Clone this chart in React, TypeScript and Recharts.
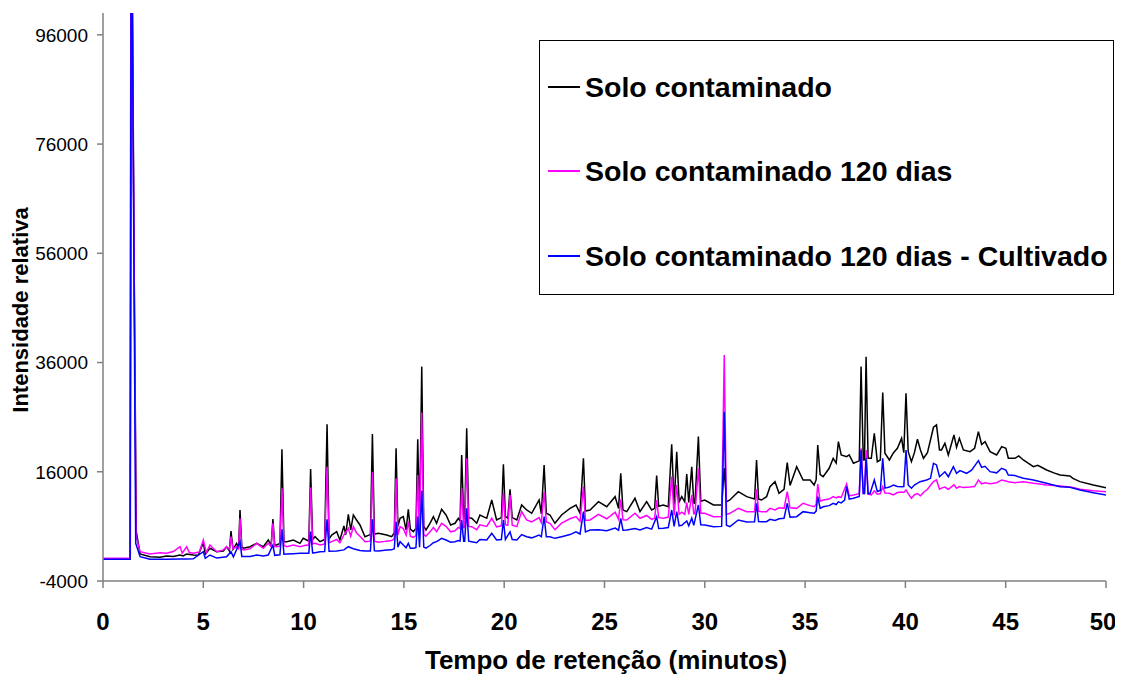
import { Line, LineChart, XAxis, YAxis } from "recharts";

const xTicks = [0, 5, 10, 15, 20, 25, 30, 35, 40, 45, 50];
const yTicks = [-4000, 16000, 36000, 56000, 76000, 96000];

// [tempo (min), intensidade]
const soloContaminado: [number, number][] = [
  [0, 0], [1.36, 0], [1.42, 130000], [1.56, 50000], [1.66, 5000], [1.85, 945],
  [2.34, 450], [2.84, 340], [3.17, 580], [3.5, 500], [3.84, 760], [4.0, 600],
  [4.17, 950], [4.5, 760], [4.75, 700], [5.0, 3010], [5.1, 900], [5.33, 2000],
  [5.67, 1370], [6.0, 1500], [6.16, 2280], [6.3, 1500], [6.38, 5160], [6.48, 1800],
  [6.66, 2900], [6.76, 2000], [6.83, 9000], [6.92, 2200], [7.0, 2000], [7.33, 2280],
  [7.66, 2900], [7.99, 2280], [8.24, 3510], [8.38, 2500], [8.47, 7350], [8.56, 2600],
  [8.66, 2590], [8.82, 2900], [8.92, 20100], [9.02, 3200], [9.16, 3200], [9.49, 3510],
  [9.82, 2900], [9.98, 3820], [10.15, 3510], [10.26, 3300], [10.35, 16500], [10.45, 3600],
  [10.57, 4110], [10.82, 3200], [11.05, 3600], [11.17, 24700], [11.27, 3700], [11.4, 4420],
  [11.65, 5030], [11.81, 3510], [12.01, 6070], [12.1, 4500], [12.23, 8220], [12.35, 5340],
  [12.48, 8090], [12.64, 7170], [12.81, 6260], [13.06, 4110], [13.33, 4500], [13.43, 22900],
  [13.53, 4600], [13.73, 4720], [14.14, 4420], [14.39, 4110], [14.52, 4800], [14.61, 20300],
  [14.7, 6000], [14.81, 7480], [14.97, 7780], [15.11, 5340], [15.22, 9130], [15.32, 5500],
  [15.47, 5030], [15.6, 5600], [15.69, 21950], [15.78, 6000], [15.89, 35250], [15.99, 6000],
  [16.1, 5340], [16.3, 6570], [16.47, 7780], [16.63, 6570], [16.88, 9130], [17.1, 8090],
  [17.33, 6260], [17.55, 6570], [17.71, 7480], [17.8, 7000], [17.88, 19080], [17.98, 7500],
  [18.03, 7400], [18.13, 23970], [18.23, 7600], [18.38, 7480], [18.63, 6570], [18.79, 8090],
  [19.13, 7480], [19.38, 10830], [19.62, 7170], [19.86, 7600], [19.96, 17370], [20.06, 7800],
  [20.18, 7500], [20.29, 12800], [20.4, 7600], [20.63, 7170], [20.87, 9920], [21.12, 9000],
  [21.37, 8400], [21.74, 10830], [21.85, 8300], [21.99, 17250], [22.1, 8400], [22.28, 8090],
  [22.53, 6570], [22.86, 8090], [23.28, 9300], [23.58, 9920], [23.78, 8400], [23.95, 18470],
  [24.05, 8800], [24.28, 9000], [24.7, 10520], [25.11, 9600], [25.53, 11440], [25.7, 9300],
  [25.81, 15720], [25.92, 9000], [26.11, 8700], [26.52, 11140], [26.77, 8700], [27.1, 10520],
  [27.35, 9000], [27.5, 9300], [27.6, 15290], [27.7, 9700], [27.93, 9920], [28.18, 9600],
  [28.35, 21040], [28.47, 10000], [28.6, 19680], [28.72, 10500], [28.85, 11440], [29.0, 10500],
  [29.1, 15600], [29.2, 10400], [29.35, 16930], [29.45, 10300], [29.51, 10230], [29.68, 22430],
  [29.8, 10600], [30.0, 10830], [30.43, 9920], [30.84, 9920], [30.97, 16640], [31.08, 10500],
  [31.25, 10830], [31.67, 12350], [32.09, 11440], [32.48, 11000], [32.58, 18160], [32.68, 11000],
  [32.83, 10830], [33.08, 11440], [33.25, 13270], [33.5, 14190], [33.7, 12070], [33.95, 12800],
  [34.11, 17660], [34.25, 13500], [34.58, 16930], [34.9, 14500], [35.25, 14500], [35.45, 13580],
  [35.55, 14500], [35.63, 20910], [35.75, 15500], [35.9, 15100], [36.2, 16640], [36.4, 18470],
  [36.55, 17600], [36.66, 21510], [36.8, 19080], [37.07, 18770], [37.2, 19080], [37.41, 17550],
  [37.7, 18000], [37.79, 35250], [37.9, 18160], [37.96, 18200], [38.04, 37080], [38.14, 18470],
  [38.3, 18470], [38.45, 23050], [38.6, 17850], [38.75, 18160], [38.87, 30490], [38.98, 19390],
  [39.2, 18160], [39.4, 19450], [39.6, 20300], [39.81, 22120], [39.92, 19500], [40.03, 30380],
  [40.14, 19680], [40.3, 17850], [40.45, 19500], [40.6, 21950], [40.75, 20000], [40.9, 18470],
  [41.1, 19500], [41.4, 24150], [41.55, 24570], [41.7, 20000], [41.8, 20000], [41.97, 21220],
  [42.14, 19080], [42.42, 22740], [42.55, 20500], [42.69, 22130], [42.89, 20000], [43.22, 19680],
  [43.45, 20300], [43.64, 23340], [43.8, 21000], [43.97, 21510], [44.22, 19680], [44.55, 19080],
  [44.8, 20600], [45.01, 20300], [45.13, 18470], [45.46, 18470], [45.65, 18900], [45.88, 18160],
  [46.38, 16930], [46.6, 17200], [47.04, 16330], [47.4, 15800], [47.71, 15410], [48.2, 15230],
  [48.35, 14800], [48.7, 14190], [49.37, 13580], [50, 13090],
];

const solo120Dias: [number, number][] = [
  [0, 150], [1.34, 150], [1.4, 130000], [1.56, 50000], [1.65, 4110], [1.85, 1370],
  [2.34, 950], [2.84, 1180], [3.17, 1070], [3.5, 1400], [3.84, 2280], [3.95, 1100],
  [4.17, 2280], [4.3, 1200], [4.5, 1070], [4.8, 1300], [5.0, 3510], [5.15, 1200],
  [5.33, 2590], [5.67, 1370], [6.0, 1700], [6.16, 2280], [6.3, 1800], [6.38, 4110],
  [6.48, 1900], [6.66, 2280], [6.76, 1900], [6.83, 7480], [6.92, 1800], [7.0, 1680],
  [7.33, 1900], [7.66, 2900], [7.99, 2000], [8.24, 2900], [8.38, 2300], [8.47, 6570],
  [8.56, 2300], [8.66, 2280], [8.82, 2400], [8.92, 13000], [9.02, 2500], [9.16, 2280],
  [9.49, 2590], [9.82, 2280], [10.15, 2590], [10.26, 2500], [10.35, 13160], [10.45, 2800],
  [10.57, 2900], [10.82, 2590], [11.05, 2800], [11.17, 16900], [11.27, 3000], [11.4, 3200],
  [11.65, 3600], [11.81, 3000], [12.01, 4420], [12.23, 5650], [12.35, 4200], [12.48, 5950],
  [12.64, 4800], [12.81, 4200], [13.06, 3200], [13.33, 3300], [13.43, 16000], [13.53, 3300],
  [13.73, 3100], [14.14, 3300], [14.39, 3400], [14.52, 3700], [14.61, 14800], [14.7, 4400],
  [14.81, 5950], [14.97, 5600], [15.11, 4400], [15.22, 6860], [15.32, 4200], [15.47, 4000],
  [15.6, 4300], [15.69, 15400], [15.78, 4500], [15.89, 26830], [15.99, 4500], [16.1, 4200],
  [16.3, 5000], [16.47, 5800], [16.63, 5030], [16.88, 6570], [17.1, 6000], [17.33, 5000],
  [17.55, 5200], [17.71, 5800], [17.8, 5600], [17.88, 13000], [17.98, 5800], [18.03, 5800],
  [18.13, 18470], [18.23, 6000], [18.38, 5950], [18.63, 5400], [18.79, 6300], [19.13, 6000],
  [19.38, 7480], [19.62, 5900], [19.86, 6100], [19.96, 12170], [20.06, 6300], [20.18, 6200],
  [20.29, 11750], [20.4, 6200], [20.63, 5950], [20.87, 8700], [21.12, 7200], [21.37, 6800],
  [21.74, 7600], [21.85, 6700], [21.99, 12350], [22.1, 6800], [22.28, 6570], [22.53, 5400],
  [22.86, 6600], [23.28, 7400], [23.58, 7800], [23.78, 6900], [23.95, 13330], [24.05, 7100],
  [24.28, 7170], [24.7, 8200], [25.11, 7400], [25.53, 8600], [25.7, 7300], [25.81, 10960],
  [25.92, 7200], [26.11, 7170], [26.52, 8400], [26.77, 7480], [27.1, 8000], [27.35, 7300],
  [27.5, 7500], [27.6, 10830], [27.7, 7600], [27.93, 7480], [28.18, 7700], [28.35, 15100],
  [28.47, 8000], [28.6, 13580], [28.72, 8200], [28.85, 8600], [29.0, 8200], [29.1, 10340],
  [29.2, 8200], [29.35, 11750], [29.45, 8300], [29.51, 8300], [29.68, 16640], [29.8, 8400],
  [30.0, 8400], [30.43, 7780], [30.84, 7800], [30.97, 37400], [31.08, 8200], [31.25, 8400],
  [31.67, 9300], [32.09, 8700], [32.48, 8700], [32.58, 12800], [32.68, 8800], [32.83, 8700],
  [33.08, 8700], [33.25, 9300], [33.5, 9000], [33.7, 9400], [33.95, 9300], [34.11, 12350],
  [34.25, 9400], [34.58, 9300], [34.9, 10230], [35.25, 9800], [35.45, 9600], [35.55, 10000],
  [35.63, 13760], [35.75, 10600], [35.9, 10830], [36.2, 11000], [36.4, 11440], [36.55, 11200],
  [36.66, 11440], [36.8, 11300], [37.07, 13760], [37.2, 11600], [37.41, 11750], [37.7, 12000],
  [37.79, 20300], [37.9, 12000], [37.96, 12000], [38.04, 20000], [38.14, 11900], [38.3, 11750],
  [38.45, 12500], [38.6, 11900], [38.75, 12000], [38.87, 13270], [38.98, 12100], [39.2, 12070],
  [39.4, 11750], [39.6, 12200], [39.81, 12300], [39.92, 12200], [40.03, 12670], [40.14, 12000],
  [40.3, 11140], [40.45, 11800], [40.6, 12000], [40.75, 11600], [40.9, 12200], [41.1, 12800],
  [41.4, 14190], [41.55, 14500], [41.7, 12800], [41.8, 13000], [41.97, 13200], [42.14, 12800],
  [42.42, 13600], [42.55, 13000], [42.69, 13300], [42.89, 13100], [43.22, 13200], [43.45, 13300],
  [43.64, 14500], [43.8, 13800], [43.97, 14000], [44.22, 13800], [44.55, 14000], [44.8, 14500],
  [45.01, 14300], [45.13, 14190], [45.46, 14000], [45.65, 14100], [45.88, 14190], [46.38, 13890],
  [46.6, 13800], [47.04, 13580], [47.4, 13500], [47.71, 13400], [48.2, 13200], [48.35, 13100],
  [48.7, 12800], [49.37, 12540], [50, 12350],
];

const solo120DiasCultivado: [number, number][] = [
  [0, 0], [1.35, 0], [1.41, 130000], [1.55, 50000], [1.63, 2900], [1.85, 450],
  [2.34, -30], [2.84, 0], [3.17, -30], [3.84, 50], [4.17, 30], [4.5, 60],
  [5.0, 1370], [5.1, 150], [5.33, 760], [5.67, 200], [6.16, 450], [6.38, 1370],
  [6.5, 400], [6.83, 3200], [6.92, 500], [7.33, 500], [7.66, 760], [7.99, 600],
  [8.24, 760], [8.47, 2590], [8.56, 700], [8.82, 800], [8.92, 5470], [9.02, 900],
  [9.16, 950], [9.49, 1000], [9.82, 1070], [10.15, 1100], [10.26, 1100], [10.35, 5030],
  [10.45, 1150], [10.57, 1180], [10.82, 1370], [11.05, 1400], [11.17, 7300], [11.27, 1450],
  [11.65, 1500], [12.01, 1700], [12.23, 2280], [12.48, 1900], [12.81, 1600], [13.06, 1490],
  [13.33, 1500], [13.43, 7300], [13.53, 1550], [13.73, 1490], [14.14, 1680], [14.39, 1700],
  [14.52, 1900], [14.61, 6860], [14.7, 2200], [14.81, 3200], [14.97, 2600], [15.11, 2100],
  [15.22, 2900], [15.32, 2000], [15.47, 2000], [15.6, 2100], [15.69, 7780], [15.78, 2200],
  [15.89, 12540], [15.99, 2200], [16.1, 2000], [16.3, 2500], [16.47, 3000], [16.63, 3200],
  [16.88, 3810], [17.1, 3500], [17.33, 3100], [17.55, 3200], [17.71, 3400], [17.8, 3300],
  [17.88, 7170], [17.98, 3300], [18.03, 3300], [18.13, 9300], [18.23, 3300], [18.38, 3200],
  [18.63, 3000], [18.79, 3600], [19.13, 3500], [19.38, 4720], [19.62, 3500], [19.86, 3600],
  [19.96, 7170], [20.06, 3600], [20.29, 5000], [20.4, 3600], [20.63, 3510], [20.87, 4500],
  [21.12, 4100], [21.37, 3900], [21.74, 4400], [21.85, 4100], [21.99, 7780], [22.1, 4100],
  [22.28, 4110], [22.53, 3810], [22.86, 4100], [23.28, 4500], [23.58, 5000], [23.78, 4600],
  [23.95, 8700], [24.05, 5000], [24.28, 5340], [24.7, 5400], [25.11, 5200], [25.53, 5700],
  [25.7, 5300], [25.81, 7480], [25.92, 5300], [26.11, 5340], [26.52, 5600], [26.77, 5340],
  [27.1, 5800], [27.35, 5500], [27.6, 7780], [27.7, 5600], [27.93, 5650], [28.18, 5800],
  [28.35, 9000], [28.47, 6000], [28.6, 8700], [28.72, 6100], [28.85, 6200], [29.1, 7000],
  [29.2, 6100], [29.35, 7500], [29.45, 6200], [29.68, 9920], [29.8, 6300], [30.0, 6260],
  [30.43, 5950], [30.84, 6000], [30.97, 27000], [31.08, 6200], [31.25, 5950], [31.67, 7170],
  [32.09, 6800], [32.48, 6860], [32.58, 10230], [32.68, 6900], [32.83, 6860], [33.08, 6860],
  [33.25, 7300], [33.5, 7100], [33.7, 7400], [33.95, 7500], [34.11, 10230], [34.25, 7700],
  [34.58, 7780], [34.9, 8700], [35.25, 8500], [35.45, 8400], [35.55, 8800], [35.63, 11440],
  [35.75, 9300], [35.9, 9600], [36.2, 9800], [36.4, 10230], [36.55, 10000], [36.66, 10500],
  [36.8, 10300], [36.97, 10800], [37.07, 13270], [37.2, 11000], [37.41, 11140], [37.7, 11500],
  [37.79, 20000], [37.9, 12000], [37.96, 12000], [38.04, 18470], [38.14, 12000], [38.24, 12070],
  [38.45, 14500], [38.6, 12400], [38.75, 12600], [38.87, 18470], [38.98, 13000], [39.2, 13200],
  [39.4, 13580], [39.6, 13300], [39.81, 13270], [39.92, 13300], [40.03, 20000], [40.14, 13580],
  [40.3, 12980], [40.45, 13580], [40.73, 14190], [41.06, 14500], [41.25, 14800], [41.4, 17550],
  [41.55, 17250], [41.7, 15100], [41.97, 16000], [42.14, 15100], [42.39, 16930], [42.55, 15700],
  [42.72, 16200], [43.05, 15720], [43.3, 16300], [43.64, 18030], [43.8, 16800], [43.97, 17000],
  [44.22, 16020], [44.55, 15800], [44.8, 16640], [45.01, 16300], [45.13, 15410], [45.46, 15300],
  [45.88, 14810], [46.38, 14500], [47.04, 13890], [47.71, 13270], [48.2, 13160], [48.7, 12670],
  [49.37, 12170], [50, 11750],
];

const series = [
  { name: "Solo contaminado", color: "#000000", points: soloContaminado },
  { name: "Solo contaminado 120 dias", color: "#FF00FF", points: solo120Dias },
  { name: "Solo contaminado 120 dias - Cultivado", color: "#0000FF", points: solo120DiasCultivado },
];

const FONT = "'Liberation Sans', Arial, Helvetica, sans-serif";
const AXIS = "#808080";

const toRows = (pts: [number, number][]) => pts.map(([t, v]) => ({ t, v }));

function ChromLegend() {
  const tops = [46, 130, 215];
  return (
    <div
      style={{
        position: "absolute",
        left: 531,
        top: 32,
        width: 575,
        height: 255,
        border: "1px solid #000",
        boxSizing: "border-box",
        background: "#fff",
        fontFamily: FONT,
      }}
    >
      {series.map((s, i) => (
        <div
          key={s.name}
          style={{
            position: "absolute",
            left: 8,
            top: tops[i] - 20,
            height: 40,
            display: "flex",
            alignItems: "center",
            whiteSpace: "nowrap",
          }}
        >
          <span style={{ display: "inline-block", width: 32, height: 1.5, background: s.color }} />
          <span style={{ marginLeft: 5, fontSize: 28.5, fontWeight: "bold", color: "#000" }}>{s.name}</span>
        </div>
      ))}
    </div>
  );
}

export default function App() {
  return (
    <div style={{ position: "relative", width: 1107, height: 672, fontFamily: FONT }}>
      <LineChart width={1107} height={672} margin={{ top: 5, right: 9, bottom: 0, left: 0 }}>
        <XAxis
          type="number"
          dataKey="t"
          domain={[0, 50]}
          ticks={xTicks}
          allowDataOverflow
          height={99}
          stroke={AXIS}
          strokeWidth={1.5}
          tickSize={7}
          tickMargin={25}
          tick={{ fill: "#000", fontSize: 24, fontWeight: "bold", fontFamily: FONT }}
          label={{
            content: () => (
              <text x={598} y={661} textAnchor="middle" fontSize={26} fontWeight="bold" fontFamily={FONT} fill="#000">
                Tempo de retenção (minutos)
              </text>
            ),
          }}
        />
        <YAxis
          type="number"
          domain={[-4000, 100000]}
          ticks={yTicks}
          allowDataOverflow
          width={95}
          stroke={AXIS}
          strokeWidth={1.5}
          tickSize={6}
          tickMargin={9}
          tick={{ fill: "#000", fontSize: 19, fontFamily: FONT }}
          label={{
            content: () => (
              <text
                x={12}
                y={302}
                transform="rotate(-90 12 302)"
                textAnchor="middle"
                dominantBaseline="central"
                fontSize={22}
                fontWeight="bold"
                fontFamily={FONT}
                fill="#000"
              >
                Intensidade relativa
              </text>
            ),
          }}
        />
        {series.map((s) => (
          <Line
            key={s.name}
            data={toRows(s.points)}
            dataKey="v"
            name={s.name}
            type="linear"
            stroke={s.color}
            strokeWidth={1.5}
            dot={false}
            activeDot={false}
            isAnimationActive={false}
          />
        ))}
      </LineChart>
      <ChromLegend />
    </div>
  );
}
